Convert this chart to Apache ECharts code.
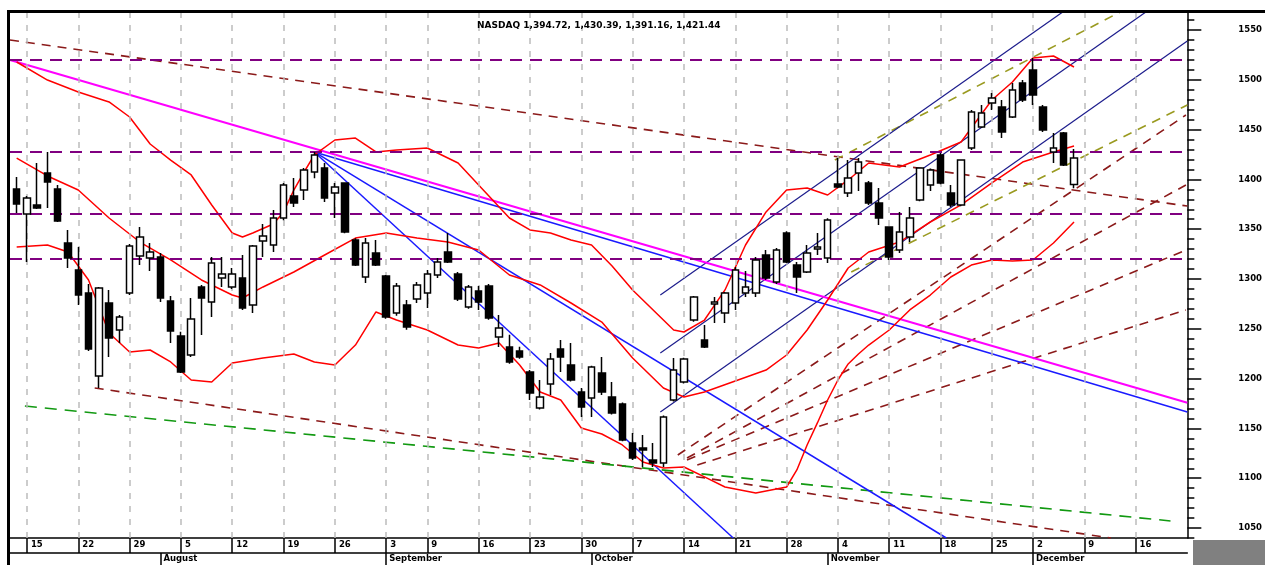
<!DOCTYPE html>
<html><head><meta charset="utf-8">
<script src="https://cdn.jsdelivr.net/npm/echarts@6/dist/echarts.min.js"></script>
<style>html,body{margin:0;padding:0;background:#fff}#c{width:1265px;height:565px}</style>
</head><body><div id="c"></div>
<script>
// NASDAQ daily candles, 12 Jul – 6 Dec 2002 (x = trading-day index)
const dates = ['07-12','07-15','07-16','07-17','07-18','07-19','07-22','07-23','07-24','07-25','07-26','07-29','07-30','07-31','08-01','08-02','08-05','08-06','08-07','08-08','08-09','08-12','08-13','08-14','08-15','08-16','08-19','08-20','08-21','08-22','08-23','08-26','08-27','08-28','08-29','08-30','09-03','09-04','09-05','09-06','09-09','09-10','09-11','09-12','09-13','09-16','09-17','09-18','09-19','09-20','09-23','09-24','09-25','09-26','09-27','09-30','10-01','10-02','10-03','10-04','10-07','10-08','10-09','10-10','10-11','10-14','10-15','10-16','10-17','10-18','10-21','10-22','10-23','10-24','10-25','10-28','10-29','10-30','10-31','11-01','11-04','11-05','11-06','11-07','11-08','11-11','11-12','11-13','11-14','11-15','11-18','11-19','11-20','11-21','11-22','11-25','11-26','11-27','11-29','12-02','12-03','12-04','12-05','12-06'];
const opens  = [1390.3,1365.2,1374.3,1406.4,1390.3,1336.1,1309.0,1285.9,1202.6,1275.9,1248.8,1285.9,1323.1,1321.1,1322.1,1277.9,1242.8,1223.7,1292.0,1276.9,1301.0,1292.0,1301.0,1273.9,1338.1,1334.1,1361.2,1383.3,1389.3,1407.4,1411.4,1386.3,1396.4,1339.1,1302.0,1326.1,1303.0,1265.9,1273.9,1279.9,1285.9,1304.0,1327.1,1305.0,1271.9,1288.0,1293.0,1241.8,1231.7,1227.7,1206.6,1170.5,1194.6,1229.7,1213.7,1186.6,1180.5,1205.6,1181.5,1174.5,1135.4,1130.3,1118.3,1115.3,1178.5,1196.6,1258.8,1238.8,1274.9,1265.9,1275.9,1285.9,1285.9,1324.1,1297.0,1346.2,1314.0,1307.0,1330.1,1321.1,1395.4,1386.3,1406.4,1396.4,1376.3,1352.2,1329.1,1342.1,1379.3,1394.3,1424.5,1386.3,1374.3,1431.5,1452.6,1476.7,1472.6,1462.6,1496.7,1509.8,1472.6,1427.5,1446.5,1394.72];
const highs  = [1402.4,1383.3,1416.4,1427.5,1394.3,1349.2,1332.1,1295.0,1292.0,1289.0,1263.8,1335.0,1352.2,1336.1,1326.0,1282.9,1247.0,1280.9,1294.0,1322.1,1322.1,1311.0,1324.1,1334.1,1355.2,1369.3,1396.4,1401.4,1411.4,1427.5,1416.4,1396.4,1397.0,1341.0,1341.1,1339.1,1304.0,1296.0,1279.0,1297.0,1309.0,1321.0,1346.2,1307.0,1294.0,1293.0,1295.0,1263.8,1244.0,1232.0,1208.6,1198.6,1225.7,1238.8,1235.7,1190.6,1213.0,1221.7,1196.6,1176.0,1145.4,1143.4,1135.4,1163.0,1220.7,1221.0,1283.0,1253.8,1281.9,1287.0,1312.0,1308.0,1322.0,1329.0,1331.0,1348.0,1317.1,1334.1,1346.2,1361.0,1421.4,1419.4,1421.4,1398.4,1391.3,1353.0,1367.3,1372.3,1412.0,1411.0,1426.5,1394.3,1420.0,1469.6,1474.7,1486.7,1479.7,1496.7,1499.7,1521.8,1474.7,1446.5,1447.5,1430.39];
const lows   = [1366.3,1317.1,1370.3,1371.3,1357.2,1311.0,1273.9,1227.7,1190.6,1221.7,1235.7,1284.0,1314.0,1308.0,1277.0,1235.7,1205.6,1221.7,1243.8,1261.8,1292.0,1290.0,1268.9,1265.9,1322.1,1327.1,1359.0,1372.3,1379.3,1401.0,1377.3,1361.2,1346.0,1313.0,1296.0,1313.0,1260.0,1263.0,1249.0,1276.0,1270.9,1301.0,1316.0,1278.0,1270.0,1268.9,1259.0,1231.7,1215.0,1220.0,1178.5,1169.0,1183.5,1206.6,1197.0,1161.5,1161.5,1183.5,1164.0,1137.0,1118.3,1111.3,1111.3,1111.3,1177.0,1195.0,1257.0,1230.7,1255.8,1255.8,1268.9,1281.9,1282.0,1299.0,1295.0,1316.0,1285.9,1306.0,1324.1,1316.0,1391.0,1382.3,1388.3,1374.3,1354.2,1319.0,1326.0,1337.1,1378.0,1388.3,1395.0,1372.3,1373.0,1429.5,1451.6,1469.6,1441.5,1461.6,1477.7,1474.7,1447.6,1416.4,1413.4,1391.16];
const closes = [1375.3,1381.3,1371.3,1397.4,1358.2,1321.1,1283.9,1229.7,1291.0,1240.8,1261.8,1333.1,1342.1,1327.1,1280.9,1247.8,1206.6,1259.8,1280.9,1316.1,1305.0,1305.0,1270.9,1333.1,1343.1,1361.2,1394.3,1376.3,1409.4,1424.5,1381.3,1392.3,1347.2,1314.0,1336.1,1314.0,1261.8,1293.0,1251.8,1294.0,1305.0,1317.1,1317.1,1279.9,1292.0,1276.9,1260.8,1250.8,1216.7,1221.7,1185.5,1181.5,1219.7,1221.7,1198.6,1171.5,1211.6,1186.6,1165.5,1138.4,1120.3,1128.3,1115.3,1161.5,1208.6,1219.7,1281.9,1231.7,1276.9,1285.9,1309.0,1292.0,1319.1,1301.0,1329.1,1317.1,1302.0,1326.1,1332.1,1359.2,1392.3,1401.4,1417.4,1376.3,1361.2,1322.1,1347.2,1361.2,1411.4,1409.4,1396.4,1374.3,1419.4,1467.6,1466.6,1481.7,1447.6,1489.7,1479.7,1484.7,1449.5,1431.5,1414.4,1421.44];

// Bollinger bands read at trading-day indices
const upperBand = [[0,1517.8],[3,1499.7],[6,1487.7],[9,1477.7],[11,1462.6],[13,1435.5],[15,1419.4],[17,1404.4],[19,1374.3],[21,1346.2],[22,1342.1],[23,1346.2],[25,1355.2],[26,1367.3],[27,1389.3],[28,1407.4],[29,1424.5],[31,1439.5],[33,1441.5],[35,1427.5],[37,1429.5],[40,1431.5],[43,1416.4],[46,1383.3],[48,1361.2],[50,1349.2],[52,1346.2],[54,1339.1],[56,1334.1],[58,1313.0],[60,1288.9],[62,1268.9],[64,1248.8],[65,1246.8],[67,1258.8],[69,1289.0],[71,1334.1],[73,1367.3],[75,1389.3],[77,1391.3],[79,1384.3],[81,1399.4],[83,1416.4],[86,1412.4],[89,1424.5],[92,1437.5],[95,1479.7],[97,1497.7],[99,1521.8],[101,1523.8],[103,1512.8]];
const middleBand = [[0,1421.4],[3,1403.4],[6,1389.3],[9,1361.2],[12,1337.1],[15,1319.1],[18,1299.0],[21,1283.9],[22,1280.9],[24,1292.0],[27,1307.0],[30,1324.1],[33,1341.1],[36,1346.2],[39,1341.1],[42,1337.1],[45,1329.1],[48,1304.0],[51,1294.0],[54,1275.9],[57,1256.8],[60,1220.7],[63,1190.6],[65,1181.5],[67,1186.6],[70,1197.6],[73,1208.6],[75,1223.7],[77,1248.8],[79,1278.9],[81,1311.0],[83,1327.1],[86,1337.1],[89,1357.2],[92,1374.3],[95,1396.4],[98,1417.4],[101,1427.5],[103,1433.5]];
const lowerBand = [[0,1332.1],[3,1334.1],[5,1327.1],[7,1299.0],[9,1245.8],[11,1226.7],[13,1228.7],[15,1216.7],[17,1198.6],[19,1196.6],[21,1215.7],[24,1220.7],[27,1224.7],[29,1216.7],[31,1213.7],[33,1233.7],[35,1266.9],[37,1258.8],[40,1248.8],[43,1233.7],[45,1230.7],[47,1235.7],[49,1213.7],[51,1186.6],[53,1178.5],[55,1150.4],[57,1144.4],[59,1133.4],[61,1116.3],[63,1110.3],[65,1111.3],[67,1101.3],[69,1091.2],[72,1085.2],[75,1091.2],[76,1108.3],[77,1133.4],[78,1155.5],[79,1178.5],[80,1198.6],[81,1214.7],[82,1224.7],[83,1233.7],[85,1248.8],[87,1268.9],[89,1283.9],[91,1302.0],[93,1314.0],[95,1319.1],[97,1318.1],[99,1319.1],[101,1336.1],[103,1357.2]];

// horizontal price levels
const levels = [1519.8, 1427.5, 1365.3, 1320.1];

// drawn trend lines: [startIndex, startPrice], [endIndex, endPrice]
const magentaLine = [[-0.65,1519.8],[114.04,1175.8]];
const fanBlue = [
  [[29,1427.5],[114.04,1166.5]],
  [[29,1427.5],[90.56,1040]],
  [[29,1427.5],[69.8,1040]]
];
const channelNavy = [
  [[62.7,1283.9],[101.9,1568]],
  [[62.7,1225.7],[110.0,1568]],
  [[62.7,1166.5],[114.04,1538.9]]
];
const channelOlive = [
  [[79.7,1419.4],[107.5,1568]],
  [[81.3,1307.0],[114.04,1474.7]]
];
const longBrown = [
  [[-0.65,1539.9],[114.04,1373.2]],
  [[7.6,1190.6],[106.6,1040]]
];
const fanBrown = [
  [[64.4,1123.3],[113.9,1464.6]],
  [[65.3,1120.3],[113.9,1394.3]],
  [[65.3,1118.3],[113.9,1329.1]],
  [[66.3,1113.3],[113.9,1268.9]]
];
const greenLine = [[0.8,1172.5],[112.4,1057.1]];

// axis ticks
const weekStarts = [1,6,11,16,21,26,31,36,40,45,50,55,60,65,70,75,80,85,90,95,99,104,109];
const weekLabels = ['15','22','29','5','12','19','26','3','9','16','23','30','7','14','21','28','4','11','18','25','2','9','16'];
const monthStarts = [14,36,56,79,99];
const monthLabels = ['August','September','October','November','December'];
const priceTicks = [1050,1100,1150,1200,1250,1300,1350,1400,1450,1500,1550];

const titleText = 'NASDAQ 1,394.72, 1,430.39, 1,391.16, 1,421.44';

const candles = opens.map((o, i) => [i, o, closes[i], lows[i], highs[i]]);
const X_MIN = -0.65, X_MAX = 114.04;
const Y_MIN = 1040, Y_MAX = 1568;
const FONT = 'DejaVu Sans';

function seg(points, color, width, type, z) {
  return {
    type: 'line', data: points, showSymbol: false, symbol: 'none', silent: true,
    animation: false, clip: true, z: z || 3,
    lineStyle: { color: color, width: width, type: type || 'solid' }
  };
}

const series = [];
// weekly grid + horizontal levels carried on an empty helper series
series.push({
  type: 'line', data: [], silent: true, animation: false, z: 1,
  markLine: {
    silent: true, symbol: 'none', animation: false, label: { show: false },
    data: weekStarts.map(w => ({ xAxis: w, lineStyle: { color: '#bcbcbc', width: 1.5, type: [6, 7] } }))
      .concat(levels.map(l => ({ yAxis: l, lineStyle: { color: '#800080', width: 2, type: [12, 8] } })))
  }
});
longBrown.forEach(p => series.push(seg(p, '#8b1a1a', 1.6, [9, 7])));
series.push(seg(greenLine, '#119911', 1.6, [12, 8]));
fanBrown.forEach(p => series.push(seg(p, '#8b1a1a', 1.6, [9, 7])));
channelOlive.forEach(p => series.push(seg(p, '#9a9a20', 1.6, [9, 7])));
channelNavy.forEach(p => series.push(seg(p, '#1c1c8c', 1.2)));
series.push(seg(magentaLine, '#ff00ff', 2));
fanBlue.forEach(p => series.push(seg(p, '#1a1aff', 1.5)));
series.push(seg(upperBand, '#ff0000', 1.5, 'solid', 4));
series.push(seg(middleBand, '#ff0000', 1.5, 'solid', 4));
series.push(seg(lowerBand, '#ff0000', 1.5, 'solid', 4));
series.push({
  type: 'candlestick', data: candles, encode: { x: 0, y: [1, 2, 3, 4] },
  barWidth: 7, animation: false, z: 6,
  itemStyle: { color: '#ffffff', color0: '#000000', borderColor: '#000000', borderColor0: '#000000', borderWidth: 1.5 }
});

const labelStyle = { fontFamily: FONT, fontSize: 8.5, fontWeight: 'bold', color: '#000' };

const chart = echarts.init(document.getElementById('c'));
chart.setOption({
  animation: false,
  backgroundColor: '#ffffff',
  title: { text: titleText, left: 472, top: 16, textStyle: { fontFamily: FONT, fontSize: 9, fontWeight: 'bold', color: '#000' } },
  grid: { left: 10, top: 12, width: 1182, height: 526, show: false },
  xAxis: [
    {
      type: 'value', min: X_MIN, max: X_MAX, position: 'bottom',
      axisLine: { show: true, onZero: false, lineStyle: { color: '#000', width: 1.5 } },
      axisTick: { show: true, customValues: weekStarts, length: 15, inside: false, lineStyle: { color: '#000', width: 1.5 } },
      axisLabel: Object.assign({ customValues: weekStarts, align: 'left', verticalAlign: 'top', margin: 2, padding: [0, 0, 0, 4],
        formatter: v => weekLabels[weekStarts.indexOf(Math.round(v))] || '' }, labelStyle),
      splitLine: { show: false }
    },
    {
      type: 'value', min: X_MIN, max: X_MAX, position: 'bottom', offset: 15,
      axisLine: { show: true, onZero: false, lineStyle: { color: '#000', width: 1.5 } },
      axisTick: { show: true, customValues: monthStarts, length: 13, inside: false, lineStyle: { color: '#000', width: 1.5 } },
      axisLabel: Object.assign({ customValues: monthStarts, align: 'left', verticalAlign: 'top', margin: 1, padding: [0, 0, 0, 3],
        formatter: v => monthLabels[monthStarts.indexOf(Math.round(v))] || '' }, labelStyle),
      splitLine: { show: false }
    }
  ],
  yAxis: [
    {
      type: 'value', min: Y_MIN, max: Y_MAX, interval: 10, position: 'right',
      axisLine: { show: true, onZero: false, lineStyle: { color: '#000', width: 1.5 } },
      axisTick: { show: true, length: 7, lineStyle: { color: '#000', width: 1.5 } },
      axisLabel: { show: false }, splitLine: { show: false }
    },
    {
      type: 'value', min: Y_MIN, max: Y_MAX, position: 'right',
      axisLine: { show: false, onZero: false },
      axisTick: { show: true, customValues: priceTicks, length: 14, lineStyle: { color: '#000', width: 1.5 } },
      axisLabel: Object.assign({ customValues: priceTicks, margin: 51, align: 'left', formatter: v => String(v) }, labelStyle),
      splitLine: { show: false }
    }
  ],
  graphic: [
    { type: 'rect', left: 7, top: 10, shape: { width: 1258, height: 3 }, style: { fill: '#000' }, z: 100 },
    { type: 'rect', left: 7, top: 10, shape: { width: 3, height: 555 }, style: { fill: '#000' }, z: 100 },
    { type: 'rect', left: 1193, top: 540, shape: { width: 72, height: 25 }, style: { fill: '#808080' }, z: 100 }
  ],
  series: series
});
</script></body></html>
